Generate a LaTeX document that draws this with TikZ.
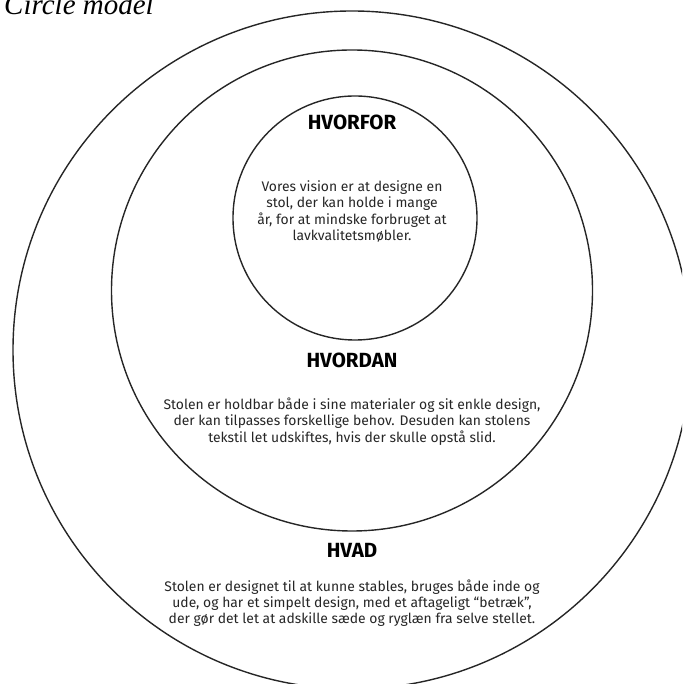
\documentclass[tikz,border=0pt]{standalone}
\usepackage{fontspec}
\setmainfont{Fira Sans}
\newfontfamily\captionfont{Liberation Serif}
\usetikzlibrary{positioning}

\tikzset{
  ring/.style={draw=black!85, line width=1.4pt},
  heading/.style={font=\fontsize{20.5}{24}\selectfont\bfseries, text=black, inner sep=0pt},
  body/.style={font=\fontsize{13.9}{16.3}\selectfont, text=black!85, align=center, inner sep=0pt},
}

\begin{document}
\begin{tikzpicture}[x=1pt,y=1pt]
  \useasboundingbox (0,0) rectangle (682,684);
  \clip (0,0) rectangle (682,684);

  % rings: outer, middle, inner
  \draw[ring] (352,334) circle[radius=339pt];
  \draw[ring] (352,393.5) circle[radius=240.5pt];
  \draw[ring] (355,466) circle[radius=122pt];

  % caption
  \node[anchor=base west, inner sep=0pt, font=\captionfont\itshape\fontsize{29}{32}\selectfont] (caption) at (4,669) {Circle model};

  % inner ring
  \node[heading, anchor=base] (why) at (352,554) {HVORFOR};
  \node[body] (whytext) at (352,472.5) {Vores vision er at designe en\\stol, der kan holde i mange\\år, for at mindske forbruget at\\lavkvalitetsmøbler.};

  % middle ring
  \node[heading, anchor=base] (how) at (352,316) {HVORDAN};
  \node[body] (howtext) at (352,262.5) {Stolen er holdbar både i sine materialer og sit enkle design,\\der kan tilpasses forskellige behov. Desuden kan stolens\\tekstil let udskiftes, hvis der skulle opstå slid.};

  % outer ring
  \node[heading, anchor=base] (what) at (352,126) {HVAD};
  \node[body] (whattext) at (352,81) {Stolen er designet til at kunne stables, bruges både inde og\\ude, og har et simpelt design, med et aftageligt “betræk”,\\der gør det let at adskille sæde og ryglæn fra selve stellet.};
\end{tikzpicture}
\end{document}
